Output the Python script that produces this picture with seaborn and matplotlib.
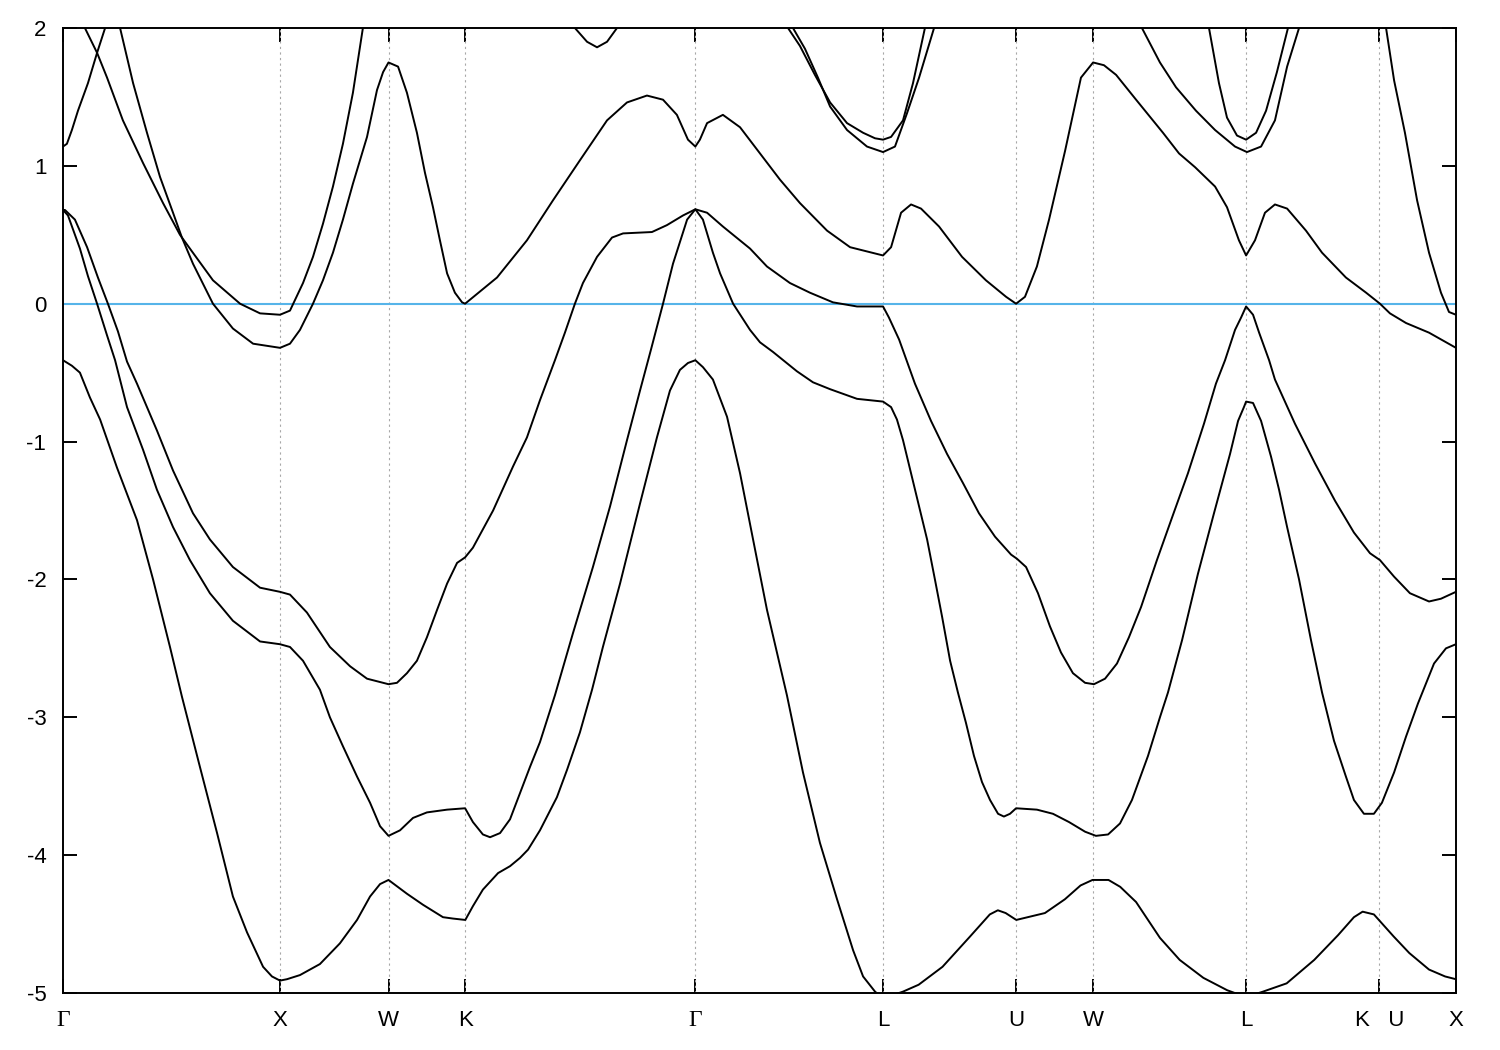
import matplotlib
matplotlib.use("Agg")
import matplotlib.pyplot as plt
import pandas as pd
import seaborn as sns

# high-symmetry points along the k-path
kpoint_pos = [0.0, 1.0, 1.5, 1.8536, 2.9142, 3.7802, 4.3926, 4.7462, 5.4533, 6.0657, 6.4193]
kpoint_labels = ["Γ", "X", "W", "K", "Γ", "L", "U", "W", "L", "K   U", "X"]
energy_ticks = [-5, -4, -3, -2, -1, 0, 1, 2]

# bands as (k, E) pairs
band1 = [(0.000, -0.41), (0.041, -0.45), (0.078, -0.50), (0.124, -0.68), (0.171, -0.84), (0.249, -1.19),
         (0.341, -1.57), (0.415, -2.00), (0.493, -2.49), (0.548, -2.85), (0.631, -3.36), (0.710, -3.84),
         (0.783, -4.30), (0.848, -4.56), (0.922, -4.81), (0.963, -4.88), (1.000, -4.91), (1.032, -4.90),
         (1.092, -4.87), (1.184, -4.79), (1.276, -4.64), (1.355, -4.47), (1.415, -4.30), (1.461, -4.21),
         (1.500, -4.18), (1.585, -4.28), (1.659, -4.36), (1.751, -4.45), (1.797, -4.46), (1.854, -4.47),
         (1.889, -4.37), (1.935, -4.25), (2.005, -4.13), (2.060, -4.08), (2.106, -4.02), (2.143, -3.96),
         (2.198, -3.82), (2.276, -3.58), (2.323, -3.38), (2.382, -3.11), (2.438, -2.80), (2.488, -2.49),
         (2.567, -2.03), (2.659, -1.45), (2.737, -0.97), (2.797, -0.63), (2.843, -0.48), (2.880, -0.43),
         (2.914, -0.41), (2.949, -0.46), (2.995, -0.55), (3.060, -0.82), (3.120, -1.23), (3.180, -1.71),
         (3.244, -2.22), (3.336, -2.84), (3.410, -3.40), (3.488, -3.91), (3.567, -4.32), (3.641, -4.69),
         (3.687, -4.88), (3.742, -4.99), (3.779, -5.04), (3.871, -4.99), (3.943, -4.94), (4.053, -4.81),
         (4.180, -4.59), (4.271, -4.43), (4.308, -4.40), (4.344, -4.42), (4.393, -4.47), (4.525, -4.42),
         (4.617, -4.32), (4.689, -4.22), (4.744, -4.18), (4.818, -4.18), (4.872, -4.23), (4.945, -4.34),
         (5.055, -4.60), (5.146, -4.76), (5.255, -4.89), (5.365, -4.98), (5.452, -5.03), (5.530, -4.99),
         (5.639, -4.93), (5.766, -4.76), (5.876, -4.58), (5.949, -4.45), (5.989, -4.41), (6.041, -4.43),
         (6.132, -4.59), (6.204, -4.71), (6.295, -4.83), (6.369, -4.88), (6.419, -4.90)]

band2 = [(0.000, 0.68), (0.023, 0.64), (0.078, 0.40), (0.115, 0.20), (0.157, 0.00), (0.203, -0.23),
         (0.240, -0.41), (0.295, -0.75), (0.369, -1.06), (0.433, -1.35), (0.507, -1.62), (0.585, -1.86),
         (0.677, -2.10), (0.783, -2.30), (0.908, -2.45), (1.000, -2.47), (1.046, -2.49), (1.106, -2.59),
         (1.184, -2.80), (1.230, -3.00), (1.290, -3.21), (1.355, -3.43), (1.415, -3.62), (1.461, -3.79),
         (1.500, -3.86), (1.553, -3.82), (1.613, -3.73), (1.677, -3.69), (1.770, -3.67), (1.853, -3.66),
         (1.889, -3.76), (1.935, -3.85), (1.968, -3.87), (2.014, -3.84), (2.060, -3.74), (2.106, -3.55),
         (2.152, -3.36), (2.198, -3.18), (2.267, -2.84), (2.350, -2.39), (2.442, -1.91), (2.521, -1.47),
         (2.599, -0.99), (2.659, -0.63), (2.710, -0.33), (2.765, 0.00), (2.811, 0.29), (2.876, 0.61),
         (2.914, 0.685), (2.949, 0.61), (2.995, 0.37), (3.028, 0.22), (3.088, 0.00), (3.166, -0.19),
         (3.212, -0.28), (3.272, -0.35), (3.382, -0.49), (3.456, -0.57), (3.535, -0.62), (3.659, -0.69),
         (3.779, -0.71), (3.816, -0.75), (3.843, -0.84), (3.871, -0.99), (3.908, -1.23), (3.945, -1.47),
         (3.982, -1.71), (4.018, -2.00), (4.051, -2.27), (4.088, -2.59), (4.124, -2.82), (4.161, -3.04),
         (4.198, -3.28), (4.235, -3.47), (4.272, -3.60), (4.309, -3.70), (4.336, -3.72), (4.364, -3.70),
         (4.392, -3.66), (4.488, -3.67), (4.562, -3.70), (4.636, -3.76), (4.710, -3.83), (4.760, -3.86),
         (4.816, -3.85), (4.871, -3.77), (4.926, -3.60), (5.000, -3.28), (5.055, -3.00), (5.092, -2.82),
         (5.157, -2.44), (5.230, -1.96), (5.304, -1.52), (5.378, -1.09), (5.415, -0.85), (5.442, -0.75),
         (5.452, -0.71), (5.484, -0.72), (5.521, -0.85), (5.567, -1.11), (5.604, -1.35), (5.641, -1.62),
         (5.696, -2.00), (5.751, -2.44), (5.802, -2.82), (5.857, -3.17), (5.912, -3.43), (5.949, -3.60),
         (5.995, -3.70), (6.041, -3.70), (6.078, -3.62), (6.134, -3.40), (6.189, -3.14), (6.244, -2.90),
         (6.318, -2.61), (6.373, -2.50), (6.419, -2.47)]

band3 = [(0.000, 0.68), (0.009, 0.68), (0.055, 0.61), (0.111, 0.41), (0.161, 0.19), (0.207, 0.00),
         (0.253, -0.20), (0.295, -0.42), (0.341, -0.58), (0.433, -0.92), (0.507, -1.21), (0.599, -1.52),
         (0.677, -1.71), (0.783, -1.91), (0.908, -2.06), (1.000, -2.09), (1.046, -2.11), (1.124, -2.24),
         (1.230, -2.49), (1.323, -2.63), (1.401, -2.72), (1.500, -2.76), (1.539, -2.75), (1.585, -2.68),
         (1.631, -2.59), (1.677, -2.42), (1.724, -2.22), (1.770, -2.03), (1.816, -1.88), (1.853, -1.84),
         (1.889, -1.77), (1.982, -1.50), (2.074, -1.18), (2.138, -0.97), (2.198, -0.70), (2.267, -0.41),
         (2.313, -0.21), (2.359, 0.00), (2.396, 0.15), (2.461, 0.34), (2.530, 0.48), (2.581, 0.51),
         (2.714, 0.52), (2.783, 0.57), (2.857, 0.64), (2.914, 0.685), (2.968, 0.66), (3.041, 0.56),
         (3.166, 0.40), (3.244, 0.27), (3.350, 0.15), (3.442, 0.08), (3.548, 0.01), (3.659, -0.02),
         (3.779, -0.02), (3.806, -0.10), (3.853, -0.26), (3.926, -0.58), (4.000, -0.85), (4.074, -1.09),
         (4.147, -1.30), (4.221, -1.52), (4.295, -1.69), (4.369, -1.82), (4.396, -1.85), (4.438, -1.91),
         (4.493, -2.10), (4.548, -2.34), (4.599, -2.53), (4.654, -2.68), (4.710, -2.75), (4.751, -2.76),
         (4.802, -2.72), (4.857, -2.61), (4.912, -2.42), (4.968, -2.20), (5.041, -1.86), (5.111, -1.55),
         (5.184, -1.23), (5.258, -0.87), (5.313, -0.58), (5.355, -0.41), (5.401, -0.19), (5.429, -0.10),
         (5.452, -0.02), (5.484, -0.08), (5.512, -0.21), (5.558, -0.41), (5.585, -0.55), (5.677, -0.87),
         (5.770, -1.16), (5.862, -1.43), (5.949, -1.66), (6.023, -1.81), (6.069, -1.86), (6.134, -1.98),
         (6.207, -2.10), (6.295, -2.16), (6.350, -2.14), (6.419, -2.09)]

band4 = [(0.263, 2.00), (0.323, 1.60), (0.387, 1.24), (0.447, 0.92), (0.507, 0.66), (0.548, 0.48),
         (0.599, 0.29), (0.691, 0.00), (0.783, -0.18), (0.876, -0.29), (1.000, -0.32), (1.046, -0.29),
         (1.092, -0.19), (1.152, 0.00), (1.198, 0.17), (1.244, 0.37), (1.290, 0.61), (1.336, 0.87),
         (1.401, 1.21), (1.447, 1.55), (1.475, 1.68), (1.500, 1.75), (1.544, 1.72), (1.585, 1.53),
         (1.631, 1.24), (1.668, 0.95), (1.705, 0.70), (1.737, 0.46), (1.770, 0.22), (1.806, 0.08),
         (1.839, 0.01), (1.853, 0.00), (2.000, 0.19), (2.138, 0.46), (2.258, 0.75), (2.382, 1.04),
         (2.507, 1.33), (2.599, 1.46), (2.691, 1.51), (2.765, 1.48), (2.829, 1.37), (2.880, 1.19),
         (2.914, 1.14), (2.935, 1.19), (2.968, 1.31), (3.041, 1.37), (3.120, 1.28), (3.212, 1.09),
         (3.304, 0.90), (3.396, 0.73), (3.521, 0.53), (3.627, 0.41), (3.779, 0.35), (3.816, 0.41),
         (3.862, 0.66), (3.908, 0.72), (3.954, 0.69), (4.037, 0.56), (4.143, 0.34), (4.253, 0.17),
         (4.346, 0.05), (4.392, 0.00), (4.433, 0.05), (4.488, 0.27), (4.544, 0.61), (4.618, 1.11),
         (4.691, 1.64), (4.747, 1.75), (4.797, 1.73), (4.853, 1.66), (4.945, 1.48), (5.069, 1.24),
         (5.143, 1.09), (5.217, 0.99), (5.309, 0.85), (5.364, 0.70), (5.419, 0.46), (5.452, 0.35),
         (5.493, 0.46), (5.539, 0.66), (5.585, 0.72), (5.641, 0.69), (5.728, 0.53), (5.802, 0.37),
         (5.912, 0.19), (6.005, 0.08), (6.069, 0.00), (6.115, -0.07), (6.189, -0.14), (6.295, -0.21),
         (6.419, -0.32)]

# upper pieces that leave the window at the top
upper_c = [(0.000, 1.14), (0.018, 1.16), (0.041, 1.26), (0.069, 1.40), (0.115, 1.60), (0.157, 1.82),
           (0.194, 2.00)]
upper_d = [(0.101, 2.00), (0.157, 1.82), (0.203, 1.64), (0.276, 1.33), (0.369, 1.02), (0.461, 0.73),
           (0.539, 0.50), (0.594, 0.38), (0.691, 0.17), (0.816, 0.00), (0.908, -0.07), (1.000, -0.08),
           (1.046, -0.05), (1.106, 0.15), (1.152, 0.34), (1.198, 0.58), (1.244, 0.85), (1.290, 1.16),
           (1.336, 1.53), (1.382, 2.00)]
upper_k = [(2.359, 2.00), (2.415, 1.90), (2.461, 1.86), (2.507, 1.90), (2.553, 2.00)]
upper_f = [(3.341, 2.00), (3.396, 1.87), (3.465, 1.66), (3.535, 1.46), (3.613, 1.31), (3.687, 1.24),
           (3.742, 1.20), (3.779, 1.19), (3.816, 1.21), (3.871, 1.33), (3.917, 1.60), (3.972, 2.00)]
upper_g = [(3.364, 2.00), (3.419, 1.85), (3.479, 1.64), (3.535, 1.43), (3.613, 1.26), (3.705, 1.14),
           (3.779, 1.10), (3.834, 1.14), (3.889, 1.38), (3.945, 1.64), (4.014, 2.00)]
upper_h = [(4.972, 2.00), (5.055, 1.75), (5.129, 1.57), (5.221, 1.40), (5.309, 1.26), (5.401, 1.14),
           (5.456, 1.10), (5.521, 1.14), (5.585, 1.33), (5.641, 1.72), (5.696, 2.00)]
upper_i = [(5.281, 2.00), (5.327, 1.60), (5.364, 1.35), (5.410, 1.22), (5.452, 1.19), (5.498, 1.24),
           (5.544, 1.40), (5.594, 1.68), (5.645, 2.00)]
upper_j = [(6.097, 2.00), (6.134, 1.62), (6.184, 1.24), (6.240, 0.75), (6.295, 0.37), (6.350, 0.08),
           (6.387, -0.06), (6.419, -0.08)]

bands = {"b1": band1, "b2": band2, "b3": band3, "b4": band4,
         "c": upper_c, "d": upper_d, "k": upper_k, "f": upper_f,
         "g": upper_g, "h": upper_h, "i": upper_i, "j": upper_j}

rows = []
for name, pts in bands.items():
    for k, e in pts:
        rows.append((name, k, e))
df = pd.DataFrame(rows, columns=["band", "k", "energy"])

sns.set_theme(style="ticks")
plt.rcParams["font.family"] = ["Liberation Sans", "DejaVu Sans"]
plt.rcParams["axes.unicode_minus"] = False

fig = plt.figure(figsize=(15, 10.5), dpi=100)
ax = fig.add_axes([63 / 1500, 1 - 993 / 1050, (1456 - 63) / 1500, (993 - 28) / 1050])

for x in kpoint_pos[1:-1]:
    ax.axvline(x, color="#a8a8a8", lw=0.8, ls=(0, (2, 3)), zorder=1)
ax.axhline(0, color="#56b4e9", lw=1.5, zorder=2)

sns.lineplot(data=df, x="k", y="energy", units="band", estimator=None, sort=False,
             color="black", lw=1.4, legend=False, ax=ax, zorder=3)

ax.set_xlim(kpoint_pos[0], kpoint_pos[-1])
ax.set_ylim(-5, 2)
ax.set_xticks(kpoint_pos, kpoint_labels)
ax.set_yticks(energy_ticks, [str(v) for v in energy_ticks])
ax.set_xlabel("")
ax.set_ylabel("")

ax.tick_params(axis="x", direction="in", top=True, bottom=True, length=10, width=1.4,
               labelsize=16, pad=12, color="black", labelcolor="black")
ax.tick_params(axis="y", direction="in", left=True, right=True, length=10, width=1.4,
               labelsize=16, pad=12, color="black", labelcolor="black")
for lab in ax.get_xticklabels():
    if lab.get_text() == "Γ":
        lab.set_fontfamily(["Liberation Serif", "DejaVu Serif"])
        lab.set_fontsize(17)

for spine in ax.spines.values():
    spine.set_visible(True)
    spine.set_color("black")
    spine.set_linewidth(1.4)

fig.savefig("out.png", dpi=100, facecolor="white")
